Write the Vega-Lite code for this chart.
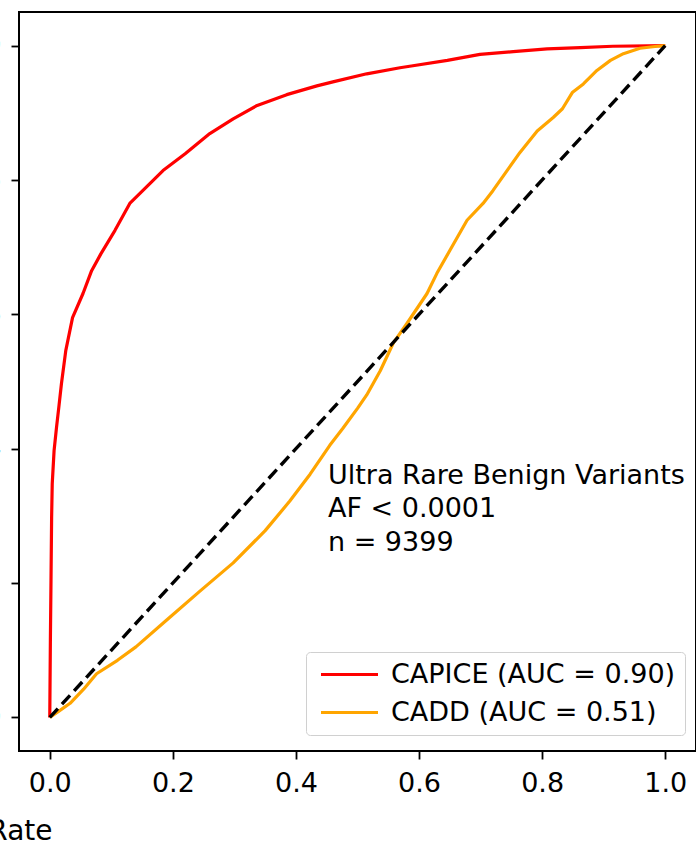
{
  "$schema": "https://vega.github.io/schema/vega-lite/v6.json",
  "width": 677,
  "height": 739,
  "autosize": {"type": "none"},
  "padding": {"left": 19, "top": 12, "right": 0, "bottom": 90},
  "background": "white",
  "config": {
    "font": "DejaVu Sans",
    "view": {"stroke": "black", "strokeWidth": 2},
    "axis": {
      "grid": false,
      "domain": false,
      "tickColor": "black",
      "tickWidth": 1.8,
      "tickSize": 8,
      "labelColor": "black",
      "labelFontSize": 27,
      "labelPadding": 11,
      "titleColor": "black",
      "titleFontWeight": "normal"
    }
  },
  "datasets": {
    "roc": [
      {"model": "CAPICE (AUC = 0.90)", "fpr": 0.0, "tpr": 0.0},
      {"model": "CAPICE (AUC = 0.90)", "fpr": 0.001, "tpr": 0.115},
      {"model": "CAPICE (AUC = 0.90)", "fpr": 0.002, "tpr": 0.204},
      {"model": "CAPICE (AUC = 0.90)", "fpr": 0.003, "tpr": 0.298},
      {"model": "CAPICE (AUC = 0.90)", "fpr": 0.004, "tpr": 0.348},
      {"model": "CAPICE (AUC = 0.90)", "fpr": 0.007, "tpr": 0.397},
      {"model": "CAPICE (AUC = 0.90)", "fpr": 0.011, "tpr": 0.432},
      {"model": "CAPICE (AUC = 0.90)", "fpr": 0.015, "tpr": 0.464},
      {"model": "CAPICE (AUC = 0.90)", "fpr": 0.019, "tpr": 0.497},
      {"model": "CAPICE (AUC = 0.90)", "fpr": 0.026, "tpr": 0.546},
      {"model": "CAPICE (AUC = 0.90)", "fpr": 0.037, "tpr": 0.595},
      {"model": "CAPICE (AUC = 0.90)", "fpr": 0.054, "tpr": 0.631},
      {"model": "CAPICE (AUC = 0.90)", "fpr": 0.068, "tpr": 0.665},
      {"model": "CAPICE (AUC = 0.90)", "fpr": 0.083, "tpr": 0.690},
      {"model": "CAPICE (AUC = 0.90)", "fpr": 0.106, "tpr": 0.725},
      {"model": "CAPICE (AUC = 0.90)", "fpr": 0.130, "tpr": 0.765},
      {"model": "CAPICE (AUC = 0.90)", "fpr": 0.163, "tpr": 0.795},
      {"model": "CAPICE (AUC = 0.90)", "fpr": 0.184, "tpr": 0.814},
      {"model": "CAPICE (AUC = 0.90)", "fpr": 0.220, "tpr": 0.839},
      {"model": "CAPICE (AUC = 0.90)", "fpr": 0.260, "tpr": 0.869},
      {"model": "CAPICE (AUC = 0.90)", "fpr": 0.298, "tpr": 0.891},
      {"model": "CAPICE (AUC = 0.90)", "fpr": 0.337, "tpr": 0.911},
      {"model": "CAPICE (AUC = 0.90)", "fpr": 0.385, "tpr": 0.927},
      {"model": "CAPICE (AUC = 0.90)", "fpr": 0.434, "tpr": 0.940},
      {"model": "CAPICE (AUC = 0.90)", "fpr": 0.460, "tpr": 0.946},
      {"model": "CAPICE (AUC = 0.90)", "fpr": 0.515, "tpr": 0.958},
      {"model": "CAPICE (AUC = 0.90)", "fpr": 0.569, "tpr": 0.967},
      {"model": "CAPICE (AUC = 0.90)", "fpr": 0.590, "tpr": 0.970},
      {"model": "CAPICE (AUC = 0.90)", "fpr": 0.646, "tpr": 0.978},
      {"model": "CAPICE (AUC = 0.90)", "fpr": 0.699, "tpr": 0.987},
      {"model": "CAPICE (AUC = 0.90)", "fpr": 0.753, "tpr": 0.991},
      {"model": "CAPICE (AUC = 0.90)", "fpr": 0.808, "tpr": 0.995},
      {"model": "CAPICE (AUC = 0.90)", "fpr": 0.862, "tpr": 0.997},
      {"model": "CAPICE (AUC = 0.90)", "fpr": 0.915, "tpr": 0.999},
      {"model": "CAPICE (AUC = 0.90)", "fpr": 1.0, "tpr": 1.0},
      {"model": "CADD (AUC = 0.51)", "fpr": 0.0, "tpr": 0.0},
      {"model": "CADD (AUC = 0.51)", "fpr": 0.016, "tpr": 0.010},
      {"model": "CADD (AUC = 0.51)", "fpr": 0.033, "tpr": 0.021},
      {"model": "CADD (AUC = 0.51)", "fpr": 0.055, "tpr": 0.042},
      {"model": "CADD (AUC = 0.51)", "fpr": 0.076, "tpr": 0.065},
      {"model": "CADD (AUC = 0.51)", "fpr": 0.110, "tpr": 0.085},
      {"model": "CADD (AUC = 0.51)", "fpr": 0.140, "tpr": 0.105},
      {"model": "CADD (AUC = 0.51)", "fpr": 0.190, "tpr": 0.145},
      {"model": "CADD (AUC = 0.51)", "fpr": 0.244, "tpr": 0.188},
      {"model": "CADD (AUC = 0.51)", "fpr": 0.298, "tpr": 0.230},
      {"model": "CADD (AUC = 0.51)", "fpr": 0.350, "tpr": 0.278},
      {"model": "CADD (AUC = 0.51)", "fpr": 0.390, "tpr": 0.322},
      {"model": "CADD (AUC = 0.51)", "fpr": 0.423, "tpr": 0.362},
      {"model": "CADD (AUC = 0.51)", "fpr": 0.455, "tpr": 0.405},
      {"model": "CADD (AUC = 0.51)", "fpr": 0.476, "tpr": 0.430},
      {"model": "CADD (AUC = 0.51)", "fpr": 0.500, "tpr": 0.460},
      {"model": "CADD (AUC = 0.51)", "fpr": 0.515, "tpr": 0.480},
      {"model": "CADD (AUC = 0.51)", "fpr": 0.537, "tpr": 0.516},
      {"model": "CADD (AUC = 0.51)", "fpr": 0.558, "tpr": 0.557},
      {"model": "CADD (AUC = 0.51)", "fpr": 0.580, "tpr": 0.586},
      {"model": "CADD (AUC = 0.51)", "fpr": 0.613, "tpr": 0.631},
      {"model": "CADD (AUC = 0.51)", "fpr": 0.629, "tpr": 0.661},
      {"model": "CADD (AUC = 0.51)", "fpr": 0.650, "tpr": 0.695},
      {"model": "CADD (AUC = 0.51)", "fpr": 0.678, "tpr": 0.740},
      {"model": "CADD (AUC = 0.51)", "fpr": 0.704, "tpr": 0.765},
      {"model": "CADD (AUC = 0.51)", "fpr": 0.720, "tpr": 0.784},
      {"model": "CADD (AUC = 0.51)", "fpr": 0.743, "tpr": 0.814},
      {"model": "CADD (AUC = 0.51)", "fpr": 0.764, "tpr": 0.841},
      {"model": "CADD (AUC = 0.51)", "fpr": 0.792, "tpr": 0.873},
      {"model": "CADD (AUC = 0.51)", "fpr": 0.818, "tpr": 0.893},
      {"model": "CADD (AUC = 0.51)", "fpr": 0.833, "tpr": 0.906},
      {"model": "CADD (AUC = 0.51)", "fpr": 0.849, "tpr": 0.930},
      {"model": "CADD (AUC = 0.51)", "fpr": 0.867, "tpr": 0.943},
      {"model": "CADD (AUC = 0.51)", "fpr": 0.889, "tpr": 0.963},
      {"model": "CADD (AUC = 0.51)", "fpr": 0.911, "tpr": 0.978},
      {"model": "CADD (AUC = 0.51)", "fpr": 0.932, "tpr": 0.988},
      {"model": "CADD (AUC = 0.51)", "fpr": 0.959, "tpr": 0.996},
      {"model": "CADD (AUC = 0.51)", "fpr": 0.987, "tpr": 0.999},
      {"model": "CADD (AUC = 0.51)", "fpr": 1.0, "tpr": 1.0}
    ],
    "chance": [
      {"fpr": 0.0, "tpr": 0.0},
      {"fpr": 1.0, "tpr": 1.0}
    ],
    "note": [
      {"fpr": 0.452, "tpr": 0.348, "label": "Ultra Rare Benign Variants\nAF < 0.0001\nn = 9399"}
    ]
  },
  "layer": [
    {
      "data": {"name": "roc"},
      "mark": {"type": "line", "strokeWidth": 3.2, "strokeJoin": "round"},
      "encoding": {
        "x": {
          "field": "fpr",
          "type": "quantitative",
          "scale": {"domain": [-0.05, 1.05], "nice": false, "zero": false},
          "axis": {
            "values": [0, 0.2, 0.4, 0.6, 0.8, 1.0],
            "format": ".1f",
            "title": "False Positive Rate",
            "titleFontSize": 28,
            "titleX": 33,
            "titleY": 88,
            "titleAlign": "right",
            "titleBaseline": "alphabetic",
            "titleAnchor": "start"
          }
        },
        "y": {
          "field": "tpr",
          "type": "quantitative",
          "scale": {"domain": [-0.05, 1.05], "nice": false, "zero": false},
          "axis": {
            "values": [0, 0.2, 0.4, 0.6, 0.8, 1.0],
            "format": ".1f",
            "labelPadding": 10,
            "title": "True Positive Rate",
            "titleFontSize": 28
          }
        },
        "color": {
          "field": "model",
          "type": "nominal",
          "sort": null,
          "scale": {
            "domain": ["CAPICE (AUC = 0.90)", "CADD (AUC = 0.51)"],
            "range": ["#ff0000", "#ffa500"]
          },
          "legend": {
            "title": null,
            "orient": "none",
            "legendX": 287,
            "legendY": 640,
            "symbolType": "M-1,0H6.6",
            "symbolSize": 225,
            "symbolStrokeWidth": 3.2,
            "labelFontSize": 27,
            "labelColor": "black",
            "labelLimit": 400,
            "labelOffset": 49,
            "rowPadding": 10,
            "padding": 9,
            "strokeColor": "#d0d0d0",
            "fillColor": "white",
            "cornerRadius": 4
          }
        }
      }
    },
    {
      "data": {"name": "chance"},
      "mark": {"type": "line", "color": "black", "strokeWidth": 3.4, "strokeDash": [12, 6]},
      "encoding": {
        "x": {"field": "fpr", "type": "quantitative"},
        "y": {"field": "tpr", "type": "quantitative"}
      }
    },
    {
      "data": {"name": "note"},
      "mark": {
        "type": "text",
        "align": "left",
        "baseline": "alphabetic",
        "fontSize": 27,
        "lineHeight": 33.5,
        "lineBreak": "\n",
        "color": "black"
      },
      "encoding": {
        "x": {"field": "fpr", "type": "quantitative"},
        "y": {"field": "tpr", "type": "quantitative"},
        "text": {"field": "label"}
      }
    }
  ]
}
